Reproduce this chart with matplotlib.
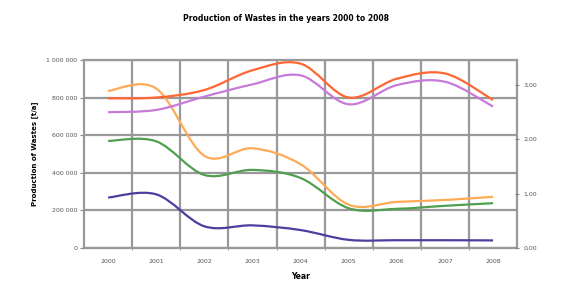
import matplotlib.pyplot as plt
from matplotlib.path import Path
from matplotlib.patches import PathPatch
import numpy as np

years = ['2000', '2001', '2002', '2003', '2004', '2005', '2006', '2007', '2008']

# Produktion je Abfallart [t/a]
orange = [835000, 848000, 490000, 530000, 445000, 230000, 245000, 255000, 272000]
rot = [796000, 800000, 840000, 945000, 980000, 800000, 900000, 928000, 787000]
lila = [722000, 734000, 805000, 870000, 918000, 764000, 866000, 884000, 752000]
gruen = [569000, 567000, 388000, 415000, 372000, 211000, 208000, 224000, 238000]
blau = [268000, 285000, 115000, 120000, 95000, 43000, 41000, 41000, 40000]

farben = {'orange': '#ffaa55', 'rot': '#ff6633', 'lila': '#c77ad8',
          'gruen': '#4f9f4f', 'blau': '#4a3f9f'}


def glatte_linie(ax, werte, farbe):
    # Excel-artige geglaettete Linie (Catmull-Rom als Bezier)
    x = np.arange(len(werte), dtype=float)
    y = np.array(werte, dtype=float)
    verts = [(x[0], y[0])]
    codes = [Path.MOVETO]
    for i in range(len(x) - 1):
        x0, y0 = (x[i - 1], y[i - 1]) if i > 0 else (x[i], y[i])
        x3, y3 = (x[i + 2], y[i + 2]) if i + 2 < len(x) else (x[i + 1], y[i + 1])
        c1 = (x[i] + (x[i + 1] - x0) / 6, y[i] + (y[i + 1] - y0) / 6)
        c2 = (x[i + 1] - (x3 - x[i]) / 6, y[i + 1] - (y3 - y[i]) / 6)
        verts += [c1, c2, (x[i + 1], y[i + 1])]
        codes += [Path.CURVE4] * 3
    ax.add_patch(PathPatch(Path(verts, codes), facecolor='none',
                           edgecolor=farbe, lw=1.6, zorder=3))


fig = plt.figure(figsize=(5.72, 2.84), dpi=100)
ax = fig.add_axes([0.147, 0.127, 0.757, 0.662])

for werte, name in [(orange, 'orange'), (rot, 'rot'), (lila, 'lila'),
                    (gruen, 'gruen'), (blau, 'blau')]:
    glatte_linie(ax, werte, farben[name])

ax.set_xlim(-0.5, len(years) - 0.5)
ax.set_ylim(0, 1000000)
ax.set_xticks(range(len(years)))
ax.set_xticklabels(years, fontsize=4.5, color='#555555')
ax.set_xticks(np.arange(0.5, len(years) - 1, 1), minor=True)
ax.tick_params(axis='x', which='major', length=0, pad=8)
ax.tick_params(axis='x', which='minor', length=3, color='#888888', direction='inout')
ax.grid(True, which='minor', axis='x', color='#999999', lw=1.6)

ax.set_yticks(range(0, 1000001, 200000))
ax.set_yticklabels(['0', '200 000', '400 000', '600 000', '800 000', '1 000 000'],
                   fontsize=4.5, color='#555555')
ax.tick_params(axis='y', length=3, color='#888888', pad=2)
ax.grid(True, which='major', axis='y', color='#999999', lw=1.6)
ax.set_axisbelow(True)

for s in ax.spines.values():
    s.set_color('#999999')
    s.set_linewidth(1.6)

ax2 = ax.twinx()
ax2.set_ylim(0, 3.46)
ax2.set_yticks([0, 1, 2, 3])
ax2.set_yticklabels(['0,00', '1,00', '2,00', '3,00'], fontsize=4.5, color='#555555')
ax2.tick_params(axis='y', length=3, color='#888888', direction='inout', pad=3)
for s in ax2.spines.values():
    s.set_visible(False)

ax.set_xlabel('Year', fontsize=5.5, fontweight='bold', labelpad=6)
ax.set_ylabel('Production of Wastes [t/a]', fontsize=5, fontweight='bold', labelpad=6)
fig.suptitle('Production of Wastes in the years 2000 to 2008', fontsize=5.5,
             fontweight='bold', y=0.95)

fig.savefig('out.png', dpi=100)
